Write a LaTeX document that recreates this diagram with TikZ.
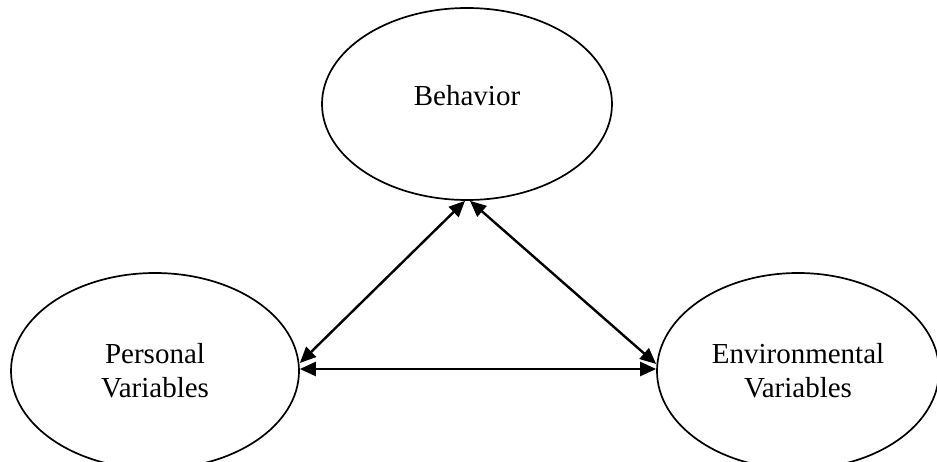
\documentclass[tikz,border=0pt]{standalone}
\usepackage{fontspec}
\setmainfont{Liberation Serif}
\usetikzlibrary{shapes.geometric,arrows.meta}
\begin{document}
\begin{tikzpicture}[x=1pt,y=-1pt,
  oval/.style={draw=black,line width=1.7pt,ellipse,inner sep=0pt,align=center,
    font=\fontsize{29}{34}\selectfont},
  link/.style={line width=2.4pt,{Triangle[length=16pt,width=14pt]}-{Triangle[length=16pt,width=14pt]}}]
\useasboundingbox (0,0) rectangle (937,462);
\fill[white] (0,0) rectangle (937,462);
\node[oval,minimum width=290pt,minimum height=192pt] (beh) at (467,104) {\raisebox{18pt}{Behavior}};
\node[oval,minimum width=288pt,minimum height=196pt] (per) at (155,371) {Personal\\Variables};
\node[oval,minimum width=282pt,minimum height=196pt] (env) at (798,371) {Environmental\\Variables};
\draw[link] ([xshift=-2pt]beh.south) -- ([yshift=8pt]per.east);
\draw[link] ([xshift=3pt]beh.south) -- ([yshift=7pt]env.west);
\draw[link] ([yshift=2pt]per.east) -- ([yshift=2pt]env.west);
\end{tikzpicture}
\end{document}
